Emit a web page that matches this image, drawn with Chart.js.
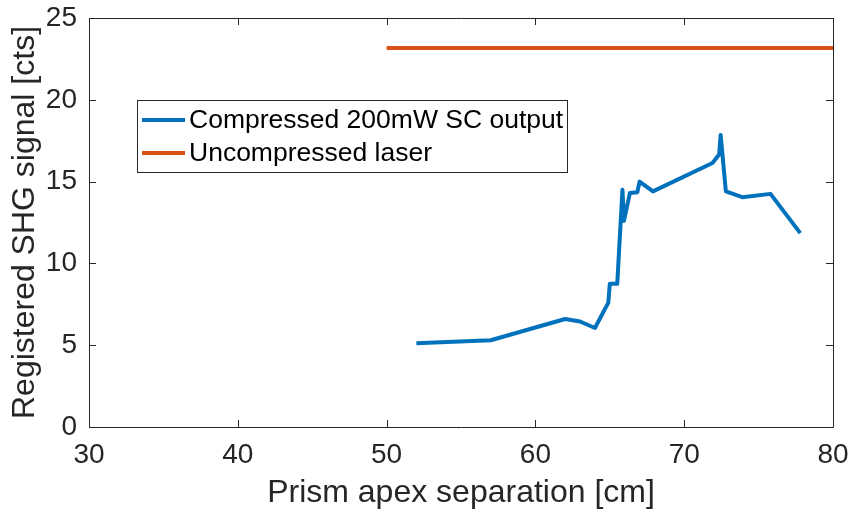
<!DOCTYPE html>
<html>
<head>
<meta charset="utf-8">
<script src="https://cdn.jsdelivr.net/npm/chart.js@4.4.1/dist/chart.umd.min.js"></script>
<style>
  html, body { margin: 0; padding: 0; background: #ffffff; }
  canvas { display: block; }
</style>
</head>
<body>
<canvas id="c" width="853" height="515"></canvas>
<script>
// Prism apex separation [cm] and SHG counts for the compressed supercontinuum
const compressedSep = [52, 57, 62, 63, 64, 64.9, 65, 65.5, 65.85, 65.95, 66.35, 66.85, 67, 67.9, 71.9, 72.35, 72.45, 72.8, 73.9, 75.8, 77.8];
const compressedSig = [5.12, 5.3, 6.6, 6.45, 6.05, 7.6, 8.75, 8.75, 14.5, 12.6, 14.3, 14.35, 15.0, 14.4, 16.14, 16.65, 17.85, 14.4, 14.05, 14.25, 11.85];

// Reference level of the uncompressed laser
const laserSep = [50, 80];
const laserSig = [23.17, 23.17];

const xTicks = [30, 40, 50, 60, 70, 80];
const yTicks = [0, 5, 10, 15, 20, 25];

const seriesLabels = ['Compressed 200mW SC output', 'Uncompressed laser'];
const seriesColors = ['#0072BD', '#D95319'];

const INK = '#262626';
const FONT = '"Liberation Sans", Arial, Helvetica, sans-serif';

// Plot-area frame inside the canvas
const frame = { left: 89, top: 18, right: 833, bottom: 427 };

const toPoints = (xs, ys) => xs.map((x, i) => ({ x: x, y: ys[i] }));

// Box around the axes with inward tick marks on all four sides
const boxPlugin = {
  id: 'boxTicks',
  afterDatasetsDraw(chart) {
    const { ctx, chartArea: a, scales } = chart;
    const len = 7;
    ctx.save();
    ctx.strokeStyle = INK;
    ctx.lineWidth = 1;
    ctx.beginPath();
    ctx.rect(Math.round(a.left) + 0.5, Math.round(a.top) + 0.5,
             Math.round(a.right - a.left), Math.round(a.bottom - a.top));
    ctx.stroke();
    ctx.beginPath();
    xTicks.forEach(v => {
      const px = Math.round(scales.x.getPixelForValue(v)) + 0.5;
      ctx.moveTo(px, a.bottom); ctx.lineTo(px, a.bottom - len);
      ctx.moveTo(px, a.top); ctx.lineTo(px, a.top + len);
    });
    yTicks.forEach(v => {
      const py = Math.round(scales.y.getPixelForValue(v)) + 0.5;
      ctx.moveTo(a.left, py); ctx.lineTo(a.left + len, py);
      ctx.moveTo(a.right, py); ctx.lineTo(a.right - len, py);
    });
    ctx.stroke();
    ctx.restore();
  }
};

// Framed legend placed inside the plot region
const legendPlugin = {
  id: 'insetLegend',
  afterDraw(chart) {
    const { ctx } = chart;
    const box = { x: 137, y: 100, w: 430, h: 72 };
    ctx.save();
    ctx.fillStyle = '#ffffff';
    ctx.fillRect(box.x, box.y, box.w, box.h);
    ctx.strokeStyle = INK;
    ctx.lineWidth = 1;
    ctx.strokeRect(box.x + 0.5, box.y + 0.5, box.w, box.h);
    ctx.font = '26.5px ' + FONT;
    ctx.textBaseline = 'middle';
    ctx.textAlign = 'left';
    chart.data.datasets.forEach((ds, i) => {
      const cy = box.y + 20 + i * 33;
      ctx.strokeStyle = ds.borderColor;
      ctx.lineWidth = 4;
      ctx.beginPath();
      ctx.moveTo(box.x + 5, cy);
      ctx.lineTo(box.x + 48, cy);
      ctx.stroke();
      ctx.fillStyle = '#000000';
      ctx.fillText(ds.label, box.x + 52, cy + 1);
    });
    ctx.restore();
  }
};

new Chart(document.getElementById('c'), {
  type: 'scatter',
  data: {
    datasets: [
      {
        label: seriesLabels[0],
        data: toPoints(compressedSep, compressedSig),
        showLine: true,
        borderColor: seriesColors[0],
        backgroundColor: seriesColors[0],
        borderWidth: 4,
        borderJoinStyle: 'round',
        pointRadius: 0,
        tension: 0
      },
      {
        label: seriesLabels[1],
        data: toPoints(laserSep, laserSig),
        showLine: true,
        borderColor: seriesColors[1],
        backgroundColor: seriesColors[1],
        borderWidth: 4,
        borderJoinStyle: 'round',
        pointRadius: 0,
        tension: 0
      }
    ]
  },
  options: {
    responsive: false,
    animation: false,
    devicePixelRatio: 1,
    layout: { padding: { top: frame.top, right: 853 - frame.right, left: 0, bottom: 0 } },
    plugins: {
      legend: { display: false },
      tooltip: { enabled: false }
    },
    scales: {
      x: {
        type: 'linear',
        min: 30, max: 80,
        afterBuildTicks: s => { s.ticks = xTicks.map(v => ({ value: v })); },
        afterFit: s => {
          s.height = 515 - frame.bottom;
          s.paddingLeft = 0; s.paddingRight = 0;
        },
        grid: { display: false, drawTicks: false },
        border: { display: false },
        ticks: {
          color: INK, padding: 11,
          font: { family: FONT, size: 28 }
        },
        title: {
          display: true, text: 'Prism apex separation [cm]',
          color: INK, padding: { top: 0, bottom: 3 },
          font: { family: FONT, size: 32 }
        }
      },
      y: {
        type: 'linear',
        min: 0, max: 25,
        afterBuildTicks: s => { s.ticks = yTicks.map(v => ({ value: v })); },
        afterFit: s => {
          s.width = frame.left;
          s.paddingTop = 0; s.paddingBottom = 0;
        },
        grid: { display: false, drawTicks: false },
        border: { display: false },
        ticks: {
          color: INK, padding: 12,
          font: { family: FONT, size: 28 }
        },
        title: {
          display: true, text: 'Registered SHG signal [cts]',
          color: INK, padding: { top: 6, bottom: 0 },
          font: { family: FONT, size: 32 }
        }
      }
    }
  },
  plugins: [boxPlugin, legendPlugin]
});
</script>
</body>
</html>
